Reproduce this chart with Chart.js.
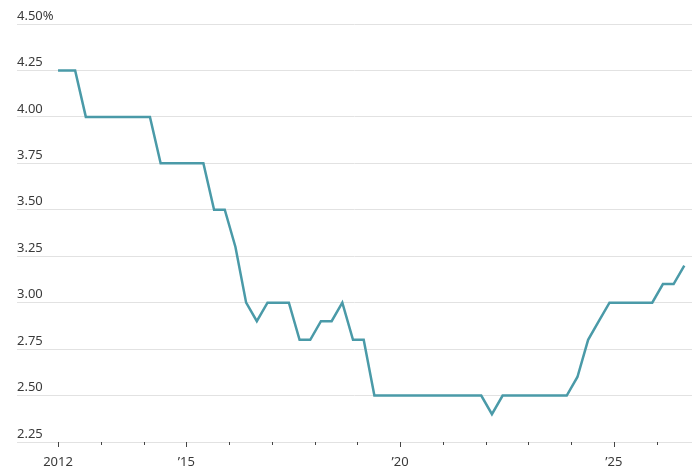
<!DOCTYPE html>
<html>
<head>
<meta charset="utf-8">
<script src="https://cdn.jsdelivr.net/npm/chart.js@4"></script>
<style>
    html, body { margin: 0; padding: 0; background: #fff; }
    #wrap { width: 700px; height: 474px; }
</style>
</head>
<body>
<div id="wrap"><canvas id="rateChart"></canvas></div>
<script>
// decimal years for each point (roughly quarterly)
const dates = [
    2012.0, 2012.15, 2012.4, 2012.65, 2012.9,
    2013.15, 2013.4, 2013.65, 2013.9,
    2014.15, 2014.4, 2014.65, 2014.9,
    2015.15, 2015.4, 2015.65, 2015.9,
    2016.15, 2016.4, 2016.65, 2016.9,
    2017.15, 2017.4, 2017.65, 2017.9,
    2018.15, 2018.4, 2018.65, 2018.9,
    2019.15, 2019.4, 2019.65, 2019.9,
    2020.15, 2020.4, 2020.65, 2020.9,
    2021.15, 2021.4, 2021.65, 2021.9,
    2022.15, 2022.4, 2022.65, 2022.9,
    2023.15, 2023.4, 2023.65, 2023.9,
    2024.15, 2024.4, 2024.65, 2024.9,
    2025.15, 2025.4, 2025.65, 2025.9,
    2026.15, 2026.4, 2026.65
];
const rates = [
    4.25, 4.25, 4.25, 4.00, 4.00,
    4.00, 4.00, 4.00, 4.00,
    4.00, 3.75, 3.75, 3.75,
    3.75, 3.75, 3.50, 3.50,
    3.30, 3.00, 2.90, 3.00,
    3.00, 3.00, 2.80, 2.80,
    2.90, 2.90, 3.00, 2.80,
    2.80, 2.50, 2.50, 2.50,
    2.50, 2.50, 2.50, 2.50,
    2.50, 2.50, 2.50, 2.50,
    2.40, 2.50, 2.50, 2.50,
    2.50, 2.50, 2.50, 2.50,
    2.60, 2.80, 2.90, 3.00,
    3.00, 3.00, 3.00, 3.00,
    3.10, 3.10, 3.20
];
const tickYears = [2012, 2013, 2014, 2015, 2016, 2017, 2018, 2019, 2020, 2021, 2022, 2023, 2024, 2025, 2026];
const yearLabels = { 2012: '2012', 2015: '\u201915', 2020: '\u201920', 2025: '\u201925' };

const FONT = "'Noto Sans', 'Open Sans', sans-serif";
const TEXT = '#3a3a3a';

// small tick marks below the baseline, longer on labelled years
const yearTicks = {
    id: 'yearTicks',
    afterDraw(chart) {
        const x = chart.scales.x;
        const base = chart.chartArea.bottom;
        const c = chart.ctx;
        c.save();
        c.strokeStyle = '#444';
        c.lineWidth = 1;
        tickYears.forEach(yr => {
            const px = Math.round(x.getPixelForValue(yr)) + 0.5;
            const len = yearLabels[yr] ? 5 : 3;
            c.beginPath();
            c.moveTo(px, base);
            c.lineTo(px, base + len);
            c.stroke();
        });
        c.restore();
    }
};

document.addEventListener('DOMContentLoaded', () => {
    const ctx = document.getElementById('rateChart').getContext('2d');

    new Chart(ctx, {
        type: 'line',
        data: {
            datasets: [{
                data: dates.map((d, i) => ({ x: d, y: rates[i] })),
                borderColor: '#4a9aa8',
                borderWidth: 2.5,
                pointRadius: 0,
                tension: 0,
                fill: false
            }]
        },
        options: {
            responsive: true,
            maintainAspectRatio: false,
            animation: false,
            layout: { padding: { left: 17, right: 8, top: 24, bottom: 0 } },
            plugins: {
                legend: { display: false },
                tooltip: { enabled: false }
            },
            scales: {
                x: {
                    type: 'linear',
                    min: 2011.04,
                    max: 2026.83,
                    afterBuildTicks: s => { s.ticks = tickYears.map(v => ({ value: v })); },
                    afterFit: s => { s.height = 32; },
                    grid: { display: false },
                    border: { display: false },
                    ticks: {
                        autoSkip: false,
                        maxRotation: 0,
                        padding: 4,
                        color: TEXT,
                        font: { family: FONT, size: 13 },
                        callback: v => yearLabels[v] || ''
                    }
                },
                y: {
                    min: 2.25,
                    max: 4.5,
                    afterFit: s => { s.width = 0; },
                    grid: { color: '#e2e2e2', lineWidth: 1, drawTicks: false },
                    border: { display: false },
                    ticks: {
                        stepSize: 0.25,
                        mirror: true,
                        padding: 0,
                        labelOffset: -8,
                        color: TEXT,
                        font: { family: FONT, size: 13 },
                        callback: v => v === 4.5 ? '4.50%' : v.toFixed(2)
                    }
                }
            }
        },
        plugins: [yearTicks]
    });
});
</script>
</body>
</html>
